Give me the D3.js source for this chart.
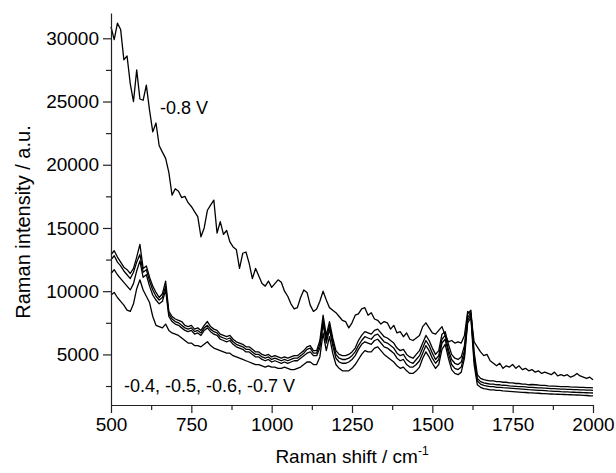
<!DOCTYPE html>
<html>
<head>
<meta charset="utf-8">
<script src="https://cdn.jsdelivr.net/npm/d3@7/dist/d3.min.js"></script>
<style>
  html, body { margin: 0; padding: 0; background: #fff; }
  svg { display: block; }
  text { font-family: "Liberation Sans", Arial, sans-serif; fill: #000; }
</style>
</head>
<body>
<svg id="chart" width="616" height="473"></svg>
<script>
// Raman shift grid (cm^-1)
const shift = d3.range(500, 2001, 10);

// Series: -0.8 V
const v08 = [
  30900, 29900, 31200, 30700, 28300, 28600, 26400, 25000, 27500, 25200,
  25100, 26300, 24300, 22600, 23300, 21500, 21000, 20500, 19400, 17600,
  18100, 17900, 17400, 17500, 17000, 16700, 16300, 15900, 14300, 15000,
  16400, 16800, 17200, 14600, 15500, 14500, 14800, 13900, 13500, 13300,
  11800, 13000, 13100, 12200, 11000, 11800, 11200, 10600, 10400, 10800,
  10300, 10600, 10900, 10700, 10000, 9600, 9000, 8600, 8700, 9500,
  10100, 9900, 8900, 8400, 8600, 9200, 10000, 9300, 8700, 8500,
  8300, 8000, 7700, 7600, 7100, 7500, 8100, 8200, 8600, 8700,
  8100, 8300, 7800, 7700, 7400, 7600, 7500, 7000, 7300, 6700,
  6800, 6400, 6700, 6200, 6100, 6300, 6500, 7200, 7500, 7100,
  6700, 6600, 6900, 7200, 6500, 6000, 6100, 5900, 6000, 5900,
  6500, 8400, 8200, 6000, 5600, 5200, 4900, 5000, 4500, 4300,
  4100, 4300, 3900, 4100, 4000, 4200, 3900, 4100, 3800, 3900,
  3700, 3800, 3600, 3700, 3500, 3600, 3500, 3400, 3600, 3300,
  3400, 3300, 3400, 3200, 3300, 3500, 3300, 3200, 3100, 3200,
  3000
];

// Lower bundle (-0.4 ... -0.7 V), from top to bottom
const lowA = [
  12900, 13200, 12700, 12300, 11900, 11700, 11400, 11800, 12700, 13700,
  11800, 12000, 11100, 10400, 9900, 9500, 9800, 10800, 8400, 8000,
  7800, 7700, 7600, 7300, 7200, 7300, 7000, 7100, 6900, 7300,
  7600, 7200, 7000, 6900, 6600, 6500, 6400, 6500, 6200, 6000,
  5900, 5800, 5600, 5600, 5400, 5200, 5200, 5000, 4900, 5000,
  4800, 4900, 4800, 4700, 4800, 4700, 4800, 4900, 4900, 5100,
  5300, 5600, 5700, 5300, 5300, 6100, 8100, 6500, 7600, 6300,
  5300, 5000, 4900, 4900, 5000, 5200, 5500, 6100, 6500, 6800,
  6700, 6600, 6900, 7000, 6700, 6400, 6300, 6100, 5900, 5500,
  5300, 5400, 5000, 4800, 4700, 5000, 5300, 5900, 6500, 6100,
  5500, 5000, 5300, 6600, 6800, 5800, 5000, 4700, 4600, 4800,
  5700, 8200, 8500, 5200, 3400, 3100, 3000, 2950, 2900, 2900,
  2850, 2850, 2800, 2800, 2750, 2750, 2700, 2700, 2650, 2650,
  2600, 2620, 2600, 2580, 2550, 2550, 2520, 2500, 2500, 2480,
  2460, 2450, 2450, 2430, 2420, 2420, 2400, 2400, 2380, 2370,
  2350
];
const lowB = [
  12500, 12800, 12300, 12000, 11600, 11300, 11000, 11500, 12300, 12900,
  11500, 11700, 10800, 10100, 9600, 9300, 9500, 10400, 8200, 7800,
  7600, 7500, 7300, 7100, 7000, 7100, 6800, 6900, 6700, 7100,
  7300, 7000, 6800, 6700, 6400, 6300, 6200, 6300, 6000, 5800,
  5700, 5600, 5400, 5400, 5200, 5000, 5000, 4800, 4700, 4800,
  4600, 4700, 4600, 4500, 4600, 4500, 4600, 4700, 4700, 4900,
  5100, 5400, 5500, 5100, 5100, 5800, 7700, 6200, 7300, 6000,
  5000, 4700, 4600, 4600, 4700, 4900, 5200, 5700, 6100, 6400,
  6300, 6200, 6500, 6600, 6300, 6000, 5900, 5700, 5500, 5100,
  4900, 5000, 4600, 4400, 4300, 4600, 4900, 5500, 6100, 5700,
  5100, 4600, 4900, 6200, 6500, 5400, 4600, 4300, 4200, 4400,
  5300, 7900, 8300, 4900, 3100, 2850, 2750, 2700, 2650, 2650,
  2600, 2600, 2560, 2550, 2520, 2500, 2480, 2460, 2450, 2430,
  2400, 2400, 2380, 2360, 2350, 2340, 2320, 2300, 2300, 2280,
  2260, 2250, 2240, 2230, 2220, 2210, 2200, 2190, 2180, 2170,
  2150
];
const lowC = [
  11400, 11700, 11300, 11000, 10700, 10400, 10100, 10600, 11600, 12400,
  11100, 11300, 10400, 9700, 9300, 9000, 9200, 10100, 8000, 7600,
  7400, 7300, 7100, 6900, 6800, 6900, 6600, 6700, 6500, 6900,
  7100, 6800, 6600, 6500, 6200, 6100, 6000, 6100, 5800, 5600,
  5500, 5400, 5200, 5200, 5000, 4800, 4800, 4600, 4500, 4600,
  4400, 4500, 4400, 4300, 4400, 4300, 4400, 4500, 4500, 4700,
  4900, 5100, 5200, 4900, 4900, 5500, 7400, 5900, 7000, 5700,
  4700, 4400, 4300, 4300, 4400, 4600, 4900, 5400, 5800, 6000,
  5900, 5800, 6100, 6200, 5900, 5600, 5500, 5300, 5100, 4700,
  4500, 4600, 4200, 4000, 4000, 4200, 4500, 5100, 5700, 5300,
  4700, 4300, 4600, 5900, 6200, 5100, 4200, 3900, 3800, 4000,
  5000, 7700, 8100, 4600, 2900, 2650, 2550, 2500, 2450, 2450,
  2400, 2400, 2370, 2350, 2330, 2310, 2290, 2270, 2250, 2230,
  2210, 2200, 2180, 2160, 2150, 2130, 2110, 2100, 2080, 2070,
  2050, 2040, 2030, 2020, 2010, 2000, 1990, 1980, 1970, 1960,
  1950
];
const lowD = [
  9700, 9900, 9500, 9200, 8900, 8500, 8400, 9000, 10200, 10900,
  10100, 9600, 9100, 8000, 7300, 7200, 7100, 7400, 6900, 6700,
  6600, 6500, 6300, 6100, 5900, 5900, 5700, 5700, 5600, 5800,
  6000, 5700, 5500, 5400, 5300, 5200, 5100, 5100, 4900, 4800,
  4700, 4600, 4500, 4400, 4300, 4200, 4200, 4100, 4000, 4100,
  4000, 4000, 3900, 3900, 4000, 3900, 3800, 3800, 3900, 4000,
  4200, 4400, 4400, 4200, 4200, 4800, 6700, 5300, 6400, 5100,
  4200, 3900, 3700, 3700, 3700, 3900, 4200, 4600, 5000, 5300,
  5200, 5200, 5500, 5600, 5300, 5000, 4800, 4600, 4400, 4100,
  3900, 4000, 3700, 3500, 3500, 3700, 4000, 4700, 5200, 4800,
  4300, 3900, 4200, 5400, 5800, 4700, 3800, 3500, 3400, 3600,
  4700, 7500, 7900, 4200, 2600, 2400, 2300, 2250, 2200, 2200,
  2150, 2150, 2120, 2100, 2080, 2060, 2040, 2020, 2000, 1990,
  1970, 1960, 1940, 1930, 1910, 1900, 1880, 1870, 1860, 1850,
  1840, 1830, 1820, 1810, 1800, 1790, 1780, 1760, 1750, 1730,
  1720
];

const xMajorTicks = [500, 750, 1000, 1250, 1500, 1750, 2000];
const xMinorTicks = [625, 875, 1125, 1375, 1625, 1875];
const yMajorTicks = [5000, 10000, 15000, 20000, 25000, 30000];
const yMinorTicks = [2500, 7500, 12500, 17500, 22500, 27500];

const labels = {
  upper: "-0.8 V",
  lower: "-0.4, -0.5, -0.6, -0.7 V",
  x: "Raman shift / cm",
  xSup: "-1",
  y: "Raman intensity / a.u."
};

const svg = d3.select("#chart");
svg.append("rect").attr("width", 616).attr("height", 473).attr("fill", "#fff");

const x = d3.scaleLinear().domain([500, 2000]).range([111, 593]);
const y = d3.scaleLinear().domain([1000, 32000]).range([405, 13]);

const FS = 18;
const TICK_FS = 19;

// Lines
const line = d3.line().x((d, i) => x(shift[i])).y(d => y(d));
const series = [lowD, lowC, lowB, lowA, v08];
svg.append("g").selectAll("path").data(series).join("path")
  .attr("d", d => line(d))
  .attr("fill", "none")
  .attr("stroke", "#000")
  .attr("stroke-width", 1.3)
  .attr("stroke-linejoin", "round");

// Axes
function styleAxis(g) {
  g.selectAll("path").attr("stroke", "#222").attr("stroke-width", 1.2);
  g.selectAll("line").attr("stroke", "#222").attr("stroke-width", 1.2);
  g.selectAll("text").style("font-family", '"Liberation Sans", Arial, sans-serif')
    .style("font-size", TICK_FS + "px").attr("fill", "#000");
}

const xMinor = svg.append("g").attr("transform", "translate(0,405)")
  .call(d3.axisBottom(x).tickValues(xMinorTicks).tickSize(5).tickFormat(""));
styleAxis(xMinor);
xMinor.select(".domain").remove();

const xAxis = svg.append("g").attr("transform", "translate(0,405)")
  .call(d3.axisBottom(x).tickValues(xMajorTicks).tickSizeInner(8).tickSizeOuter(0).tickPadding(5).tickFormat(d3.format("d")));
styleAxis(xAxis);

const yMinor = svg.append("g").attr("transform", "translate(111,0)")
  .call(d3.axisLeft(y).tickValues(yMinorTicks).tickSize(5).tickFormat(""));
styleAxis(yMinor);
yMinor.select(".domain").remove();

const yAxis = svg.append("g").attr("transform", "translate(111,0)")
  .call(d3.axisLeft(y).tickValues(yMajorTicks).tickSizeInner(8).tickSizeOuter(0).tickPadding(4).tickFormat(d3.format("d")));
styleAxis(yAxis);

// Axis titles
const xt = svg.append("text")
  .attr("x", 352).attr("y", 463)
  .attr("text-anchor", "middle")
  .style("font-size", "19px");
xt.append("tspan").text(labels.x);
xt.append("tspan").attr("dy", -8).style("font-size", "12px").text(labels.xSup);

svg.append("text")
  .attr("transform", "translate(30,222) rotate(-90)")
  .attr("text-anchor", "middle")
  .style("font-size", "20px")
  .text(labels.y);

// Annotations
svg.append("text").attr("x", 160).attr("y", 114).style("font-size", FS + "px").text(labels.upper);
svg.append("text").attr("x", 124).attr("y", 392).style("font-size", FS + "px").text(labels.lower);
</script>
</body>
</html>
